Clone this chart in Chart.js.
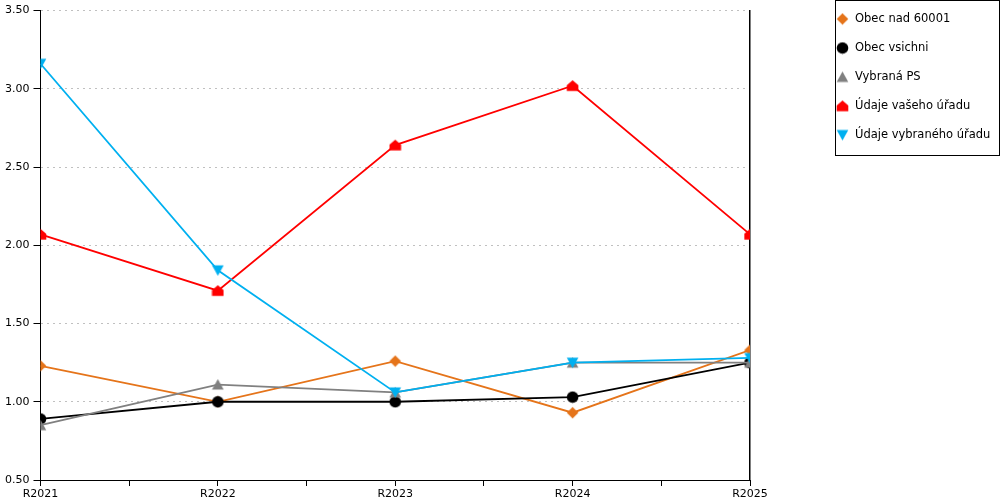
<!DOCTYPE html>
<html lang="cs">
  <head>
    <meta charset="UTF-8" />
    <title>Porovnání úřadů</title>
    <script src="https://cdn.jsdelivr.net/npm/chart.js"></script>
    <style>
      body {
        margin: 0;
        overflow: hidden;
        background-color: #fff;
        font-family: "DejaVu Sans", sans-serif;
      }
      #wrap {
        width: 1000px;
        height: 500px;
      }
    </style>
  </head>
  <body>
    <div id="wrap"><canvas id="myChart" width="1000" height="500"></canvas></div>
    <script>
      // data
      const years = ["R2021", "R2022", "R2023", "R2024", "R2025"];
      const seriesNames = [
        "Obec nad 60001",
        "Obec vsichni",
        "Vybraná PS",
        "Údaje vašeho úřadu",
        "Údaje vybraného úřadu",
      ];
      const obecNad = [1.23, 1.0, 1.26, 0.93, 1.33];
      const obecVsichni = [0.89, 1.0, 1.0, 1.03, 1.25];
      const vybranaPS = [0.85, 1.11, 1.06, 1.25, 1.25];
      const vasUrad = [2.07, 1.71, 2.64, 3.02, 2.07];
      const vybranyUrad = [3.16, 1.84, 1.06, 1.25, 1.28];
      const yTicks = [0.5, 1.0, 1.5, 2.0, 2.5, 3.0, 3.5];

      const seriesValues = [obecNad, obecVsichni, vybranaPS, vasUrad, vybranyUrad];
      const seriesColors = ["#E5741A", "#000000", "#808080", "#FF0000", "#00B0F0"];
      const seriesShapes = ["diamond", "circle", "triangle", "house", "down"];

      // small canvases used as point markers (chart and legend)
      function makeMarker(shape, color) {
        const s = 13;
        const c = document.createElement("canvas");
        c.width = s;
        c.height = s;
        const g = c.getContext("2d");
        g.fillStyle = color;
        g.beginPath();
        if (shape === "circle") {
          g.arc(6.5, 6.5, 5.8, 0, Math.PI * 2);
        } else {
          let pts;
          if (shape === "diamond") pts = [[6.5, 0.7], [12.3, 6.5], [6.5, 12.3], [0.7, 6.5]];
          if (shape === "triangle") pts = [[6.5, 1], [12.3, 11.5], [0.7, 11.5]];
          if (shape === "house") pts = [[6.5, 1], [12.3, 6], [12.3, 11.8], [0.7, 11.8], [0.7, 6]];
          if (shape === "down") pts = [[0.7, 1.5], [12.3, 1.5], [6.5, 12]];
          g.moveTo(pts[0][0], pts[0][1]);
          for (let i = 1; i < pts.length; i++) g.lineTo(pts[i][0], pts[i][1]);
          g.closePath();
        }
        g.fill();
        return c;
      }

      const markers = seriesShapes.map((sh, i) => makeMarker(sh, seriesColors[i]));

      const datasets = seriesNames.map((name, i) => ({
        label: name,
        data: seriesValues[i].map((v, j) => ({ x: j, y: v })),
        borderColor: seriesColors[i],
        backgroundColor: seriesColors[i],
        borderWidth: 1.8,
        tension: 0,
        pointStyle: markers[i],
        order: seriesNames.length - i,
      }));

      // legend box drawn on the right side
      const boxLegend = {
        id: "boxLegend",
        afterDraw(chart) {
          const ctx = chart.ctx;
          ctx.save();
          ctx.strokeStyle = "#000";
          ctx.lineWidth = 1;
          ctx.strokeRect(835.5, 0.5, 164, 155);
          ctx.font = "11.5px 'DejaVu Sans'";
          ctx.fillStyle = "#000";
          ctx.textBaseline = "middle";
          seriesNames.forEach((name, i) => {
            const y = 19 + i * 29;
            ctx.drawImage(markers[i], 836, y - 6.5);
            ctx.fillText(name, 855, y);
          });
          ctx.restore();
        },
      };

      const ctx = document.getElementById("myChart").getContext("2d");
      new Chart(ctx, {
        type: "line",
        data: { datasets: datasets },
        plugins: [boxLegend],
        options: {
          responsive: false,
          animation: false,
          layout: { padding: { left: 1, right: 250, top: 4, bottom: -3 } },
          plugins: {
            legend: { display: false },
            tooltip: { enabled: false },
          },
          scales: {
            x: {
              type: "linear",
              min: 0,
              max: years.length - 1,
              ticks: {
                stepSize: 0.5,
                autoSkip: false,
                maxRotation: 0,
                padding: 3,
                color: "#000",
                font: { family: "DejaVu Sans", size: 11, lineHeight: 1 },
                callback: (v) => (Number.isInteger(v) ? years[v] : ""),
              },
              grid: {
                drawOnChartArea: false,
                tickColor: "#000",
                tickLength: 6,
                tickBorderDash: [],
              },
              border: { color: "#000", width: 1 },
            },
            y: {
              min: yTicks[0],
              max: yTicks[yTicks.length - 1],
              afterBuildTicks: (scale) => {
                scale.ticks = yTicks.map((v) => ({ value: v }));
              },
              ticks: {
                padding: 4,
                color: "#000",
                font: { family: "DejaVu Sans", size: 11 },
                callback: (v) => Number(v).toFixed(2),
              },
              grid: {
                color: "#c0c0c0",
                tickColor: "#000",
                tickLength: 7,
                tickBorderDash: [],
              },
              border: { color: "#000", width: 1, dash: [2, 4] },
            },
            y2: {
              position: "right",
              min: 0,
              max: 1,
              ticks: { display: false },
              grid: { drawOnChartArea: false, drawTicks: false },
              border: { color: "#000", width: 1.5 },
            },
          },
        },
      });
    </script>
  </body>
</html>
